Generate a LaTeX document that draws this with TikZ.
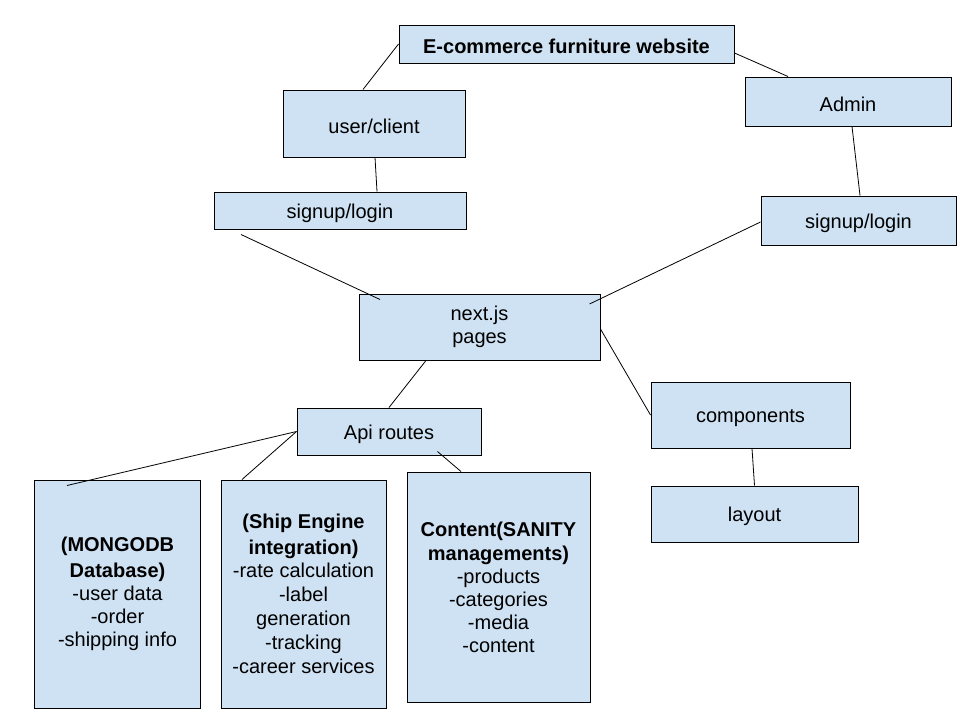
\documentclass[tikz,border=0pt]{standalone}
\usepackage{fontspec}
\setmainfont{Liberation Sans}
\usetikzlibrary{positioning}
\usetikzlibrary{calc}
\definecolor{lightblue}{rgb}{0.8117647,0.8862745,0.9529412}
\tikzset{squarednode/.style={rectangle, draw=black, line width=1pt, fill=lightblue, inner sep=0pt,
align=center, font=\fontsize{20}{23}\selectfont, execute at begin node={\rule{0pt}{19.5pt}}},
squarednodeT/.style={squarednode, font=\bfseries\fontsize{20}{23}\selectfont},
link/.style={draw=black, line width=0.8pt}}

\begin{document}
\begin{tikzpicture}[x=1pt,y=-1pt]
  \useasboundingbox[fill=white] (0,0) rectangle (960,720);
  \node(T) [squarednodeT, minimum width=335pt, minimum height=38pt] at (566.5,44) {E-commerce furniture website};
  \node(U) [squarednode, minimum width=182pt, minimum height=67pt] at (374,123.5) {user/client};
  \node(A) [squarednode, minimum width=206pt, minimum height=49pt] at (848,101.5) {Admin};
  \node(SL) [squarednode, minimum width=252pt, minimum height=37pt] at (340,210.5) {signup/login};
  \node(SR) [squarednode, minimum width=195pt, minimum height=49pt] at (858.5,220.5) {signup/login};
  \node(N) [squarednode, minimum width=241pt, minimum height=66pt] at (479.5,327) {next.js\\pages};
  \node(API) [squarednode, minimum width=184pt, minimum height=47pt] at (389,431.5) {Api routes};
  \node(C) [squarednode, minimum width=199pt, minimum height=66pt] at (750.5,415) {components};
  \node(L) [squarednode, minimum width=207pt, minimum height=56pt] at (754.5,514) {layout};
  \node(DB) [squarednode, minimum width=166pt, minimum height=228pt] at (117.5,594)
    {\textbf{(MONGODB}\\[3pt]\textbf{Database)}\\-user data\\-order\\-shipping info};
  \node(SE) [squarednode, minimum width=165pt, minimum height=228pt] at (303.5,594)
    {\textbf{(Ship Engine}\\[3pt]\textbf{integration)}\\-rate calculation\\[1pt]-label\\[1pt]generation\\[1pt]-tracking\\[1pt]-career services};
  \node(CMS) [squarednode, minimum width=183pt, minimum height=230pt] at (498.5,587)
    {\textbf{Content(SANITY}\\[1pt]\textbf{managements)}\\-products\\-categories\\-media\\-content};

\draw[link]
(T.west)
   edge
([xshift=-11pt]U.north);
\draw[link]
([yshift=-9pt]T.east)
   edge
([xshift=-60pt]A.north);
\draw[link]
([xshift=1pt]U.south)
   edge
([xshift=37pt]SL.north);
\draw[link]
([xshift=4pt]A.south)
   edge
([xshift=1.5pt]SR.north);
\draw[link]
([xshift=-99pt,yshift=-5pt]SL.south)
   edge
([xshift=-99.5pt,yshift=-6pt]N.north);
\draw[link]
([yshift=-1.5pt]SR.west)
   edge
([xshift=-11pt,yshift=23pt]N.east);
\draw[link]
([xshift=-53.5pt]N.south)
   edge
(API.north);
\draw[link]
([yshift=-2pt]N.east)
   edge
(C.west);
\draw[link]
([xshift=1.5pt]C.south)
   edge
(L.north);
\draw[link]
(API.west)
   edge
([xshift=-50.5pt,yshift=-6pt]DB.north);
\draw[link]
(API.west)
   edge
([xshift=-61.5pt]SE.north);
\draw[link]
([xshift=48.5pt,yshift=4pt]API.south)
   edge
([xshift=-37.5pt]CMS.north);
\end{tikzpicture}
\end{document}
